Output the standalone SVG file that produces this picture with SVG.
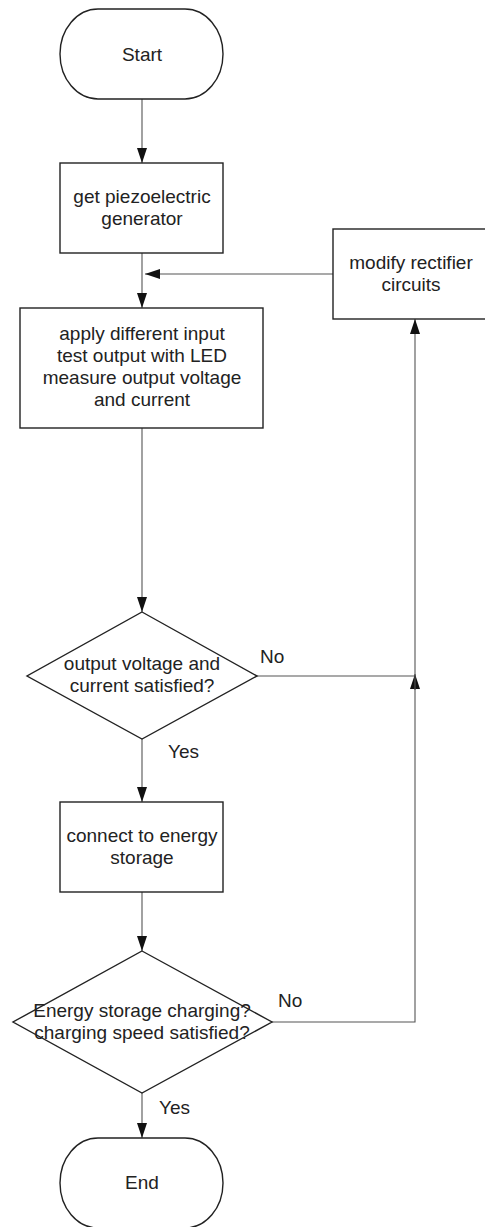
<svg xmlns="http://www.w3.org/2000/svg" width="485" height="1227" viewBox="0 0 485 1227">
<defs>
<marker id="ah" markerUnits="userSpaceOnUse" markerWidth="15" markerHeight="10" refX="15" refY="5" orient="auto">
<path d="M0,0 L15,5 L0,10 z" fill="#111"/>
</marker>
<style>
.sh{fill:#fff;stroke:#222;stroke-width:1.4}
.cn{fill:none;stroke:#555;stroke-width:1.1}
text{font-family:"Liberation Sans",Arial,sans-serif;font-size:19px;fill:#222;text-anchor:middle}
.lb{text-anchor:start}
</style>
</defs>
<rect width="485" height="1227" fill="#fff"/>
<g id="connectors">
<line class="cn" x1="142" y1="99" x2="142" y2="163" marker-end="url(#ah)"/>
<line class="cn" x1="142" y1="253" x2="142" y2="308" marker-end="url(#ah)"/>
<line class="cn" x1="333" y1="274" x2="145" y2="274" marker-end="url(#ah)"/>
<line class="cn" x1="142" y1="428" x2="142" y2="612" marker-end="url(#ah)"/>
<line class="cn" x1="257" y1="676" x2="415" y2="676"/>
<line class="cn" x1="415" y1="690" x2="415" y2="674" marker-end="url(#ah)"/>
<line class="cn" x1="415" y1="676" x2="415" y2="319" marker-end="url(#ah)"/>
<line class="cn" x1="142" y1="739" x2="142" y2="802" marker-end="url(#ah)"/>
<line class="cn" x1="142" y1="892" x2="142" y2="951" marker-end="url(#ah)"/>
<polyline class="cn" points="272,1022 415,1022 415,676"/>
<line class="cn" x1="142" y1="1093" x2="142" y2="1138" marker-end="url(#ah)"/>
<text class="lb" x="260" y="663">No</text>
<text class="lb" x="168" y="758">Yes</text>
<text class="lb" x="278" y="1007">No</text>
<text class="lb" x="159" y="1114">Yes</text>
</g>
<g id="start">
<rect class="sh" x="60" y="9" width="163" height="90" rx="38" ry="45"/>
<text x="142" y="61">Start</text>
</g>
<g id="get-generator">
<rect class="sh" x="60" y="163" width="163" height="90"/>
<text x="142" y="203">get piezoelectric</text>
<text x="142" y="225">generator</text>
</g>
<g id="modify-rectifier">
<rect class="sh" x="333" y="229" width="160" height="90"/>
<text x="411" y="269">modify rectifier</text>
<text x="411" y="291">circuits</text>
</g>
<g id="apply-input">
<rect class="sh" x="20" y="308" width="243" height="120"/>
<text x="142" y="340">apply different input</text>
<text x="142" y="362">test output with LED</text>
<text x="142" y="384">measure output voltage</text>
<text x="142" y="406">and current</text>
</g>
<g id="decision-output">
<polygon class="sh" points="142,612 257,676 142,739 27,676"/>
<text x="142" y="670">output voltage and</text>
<text x="142" y="692">current satisfied?</text>
</g>
<g id="connect-storage">
<rect class="sh" x="60" y="802" width="163" height="90"/>
<text x="142" y="842">connect to energy</text>
<text x="142" y="864">storage</text>
</g>
<g id="decision-charging">
<polygon class="sh" points="142,951 272,1022 142,1093 13,1022"/>
<text x="142" y="1017">Energy storage charging?</text>
<text x="142" y="1039">charging speed satisfied?</text>
</g>
<g id="end">
<rect class="sh" x="60" y="1138" width="163" height="90" rx="38" ry="45"/>
<text x="142" y="1189">End</text>
</g>
</svg>
